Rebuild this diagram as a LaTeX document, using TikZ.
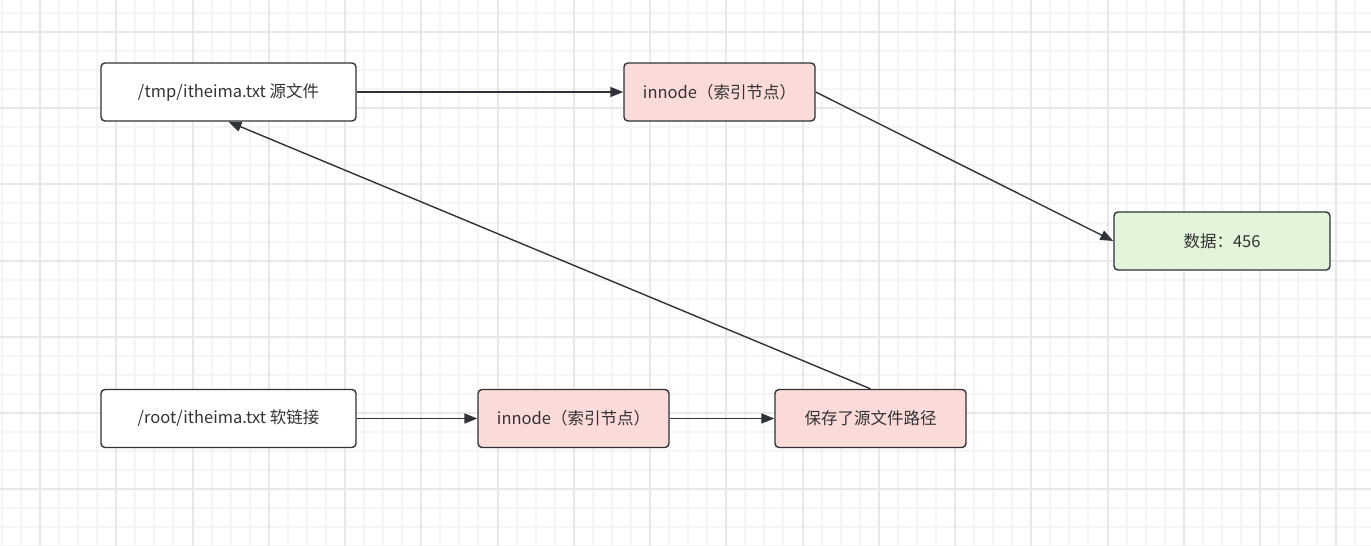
\documentclass[tikz,border=0pt]{standalone}
\usepackage{fontspec}
\setmainfont{Noto Sans CJK SC}
\usepackage{tikz}
\usetikzlibrary{positioning}
\usetikzlibrary{arrows.meta}
\usepackage{xcolor}
\definecolor{linecol}{HTML}{2F3237}
\definecolor{textcol}{HTML}{333333}
\definecolor{pinkfill}{HTML}{FADBD8}
\definecolor{greenfill}{HTML}{E2F4D9}
\definecolor{minorgrid}{HTML}{F5F5F5}
\definecolor{majorgrid}{HTML}{E8E8E8}

\begin{document}
\begin{tikzpicture}[x=1pt, y=-1pt,
        every node/.style={font=\fontsize{16.5}{20}\selectfont, text=textcol},
        n/.style={rectangle, rounded corners=4pt, draw=linecol, line width=1.4pt, fill=white,
                  minimum width=255pt, minimum height=58pt, inner sep=0pt},
        idx/.style={n, fill=pinkfill, minimum width=191pt},
        dat/.style={n, fill=greenfill, minimum width=216pt},
        arr/.style={draw=linecol, line width=1.4pt, -{Triangle[length=13pt, width=10pt]}},
        minor/.style={minorgrid, line width=1.5pt},
        major/.style={majorgrid, line width=2pt}]
            \useasboundingbox (0,0) rectangle (1371,546);
            \fill[white] (0,0) rectangle (1371,546);

            % grid
            \begin{scope}
                \clip (0,0) rectangle (1371,546);
                \foreach \i in {-3,...,70} {
                    \pgfmathsetmacro{\gx}{round(40+19.0625*\i)}
                    \draw[minor] (\gx,0) -- (\gx,546);
                }
                \foreach \j in {-2,...,28} {
                    \pgfmathsetmacro{\gy}{round(32+19.05*\j)}
                    \draw[minor] (0,\gy) -- (1371,\gy);
                }
                \foreach \i in {-1,...,18} {
                    \pgfmathsetmacro{\gx}{round(40+76.25*\i)}
                    \draw[major] (\gx,0) -- (\gx,546);
                }
                \foreach \j in {-1,...,7} {
                    \pgfmathsetmacro{\gy}{round(32+76.2*\j)}
                    \draw[major] (0,\gy) -- (1371,\gy);
                }
            \end{scope}

            \node[n] (src) at (228.5, 92) {/tmp/itheima.txt 源文件};
            \node[idx] (inode1) at (719.5, 92) {innode（索引节点）};
            \node[dat] (data) at (1222, 241) {数据：456};
            \node[n] (lnk) at (228.5, 418.5) {/root/itheima.txt 软链接};
            \node[idx] (inode2) at (573.5, 418.5) {innode（索引节点）};
            \node[idx] (path) at (870.5, 418.5) {保存了源文件路径};

            \draw[arr] (src) -- (inode1);
            \draw[arr] (inode1.east) -- (data.west);
            \draw[arr] (lnk) -- (inode2);
            \draw[arr] (inode2) -- (path);
            \draw[arr] (path.north) -- (src.south);
        \end{tikzpicture}
\end{document}
